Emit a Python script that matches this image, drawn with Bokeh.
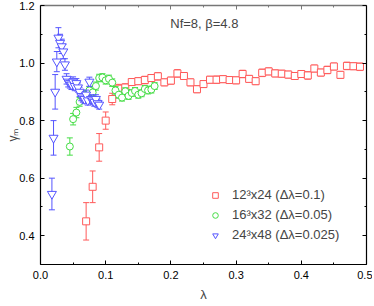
import math
from bokeh.plotting import figure
from bokeh.models import (Range1d, LinearAxis, FixedTicker, PrintfTickFormatter,
                          Label, Legend, LegendItem)
from bokeh.embed import file_html
from bokeh.resources import INLINE

# ---- data ----
red_lam = [0.07, 0.08, 0.09, 0.10, 0.11, 0.12, 0.13, 0.14, 0.15, 0.16, 0.17, 0.18,
           0.19, 0.20, 0.21, 0.22, 0.23, 0.24, 0.25, 0.26, 0.27, 0.28, 0.29, 0.30,
           0.31, 0.32, 0.33, 0.34, 0.35, 0.36, 0.37, 0.38, 0.39, 0.40, 0.41, 0.42,
           0.43, 0.44, 0.45, 0.46, 0.47, 0.48, 0.49]
red_gam = [0.450, 0.570, 0.707, 0.800, 0.875, 0.911, 0.915, 0.934, 0.937, 0.941, 0.948, 0.954,
           0.933, 0.939, 0.964, 0.955, 0.933, 0.909, 0.927, 0.942, 0.942, 0.944, 0.941, 0.940,
           0.962, 0.945, 0.937, 0.966, 0.971, 0.964, 0.963, 0.960, 0.955, 0.962, 0.957, 0.981,
           0.967, 0.976, 0.988, 0.959, 0.990, 0.989, 0.987]
red_err = [0.065, 0.055, 0.048, 0.030, 0.020, 0.015, 0.013, 0.012, 0.012, 0.013, 0.012, 0.013,
           0.012, 0.012, 0.013, 0.012, 0.012, 0.012, 0.012, 0.012, 0.013, 0.012, 0.012, 0.012,
           0.013, 0.012, 0.012, 0.013, 0.012, 0.012, 0.012, 0.012, 0.012, 0.012, 0.013, 0.012,
           0.012, 0.013, 0.012, 0.012, 0.013, 0.012, 0.013]

green_lam = [0.045, 0.050, 0.055, 0.060, 0.065, 0.070, 0.075, 0.080, 0.085, 0.090, 0.095,
             0.100, 0.105, 0.110, 0.115, 0.120, 0.125, 0.130, 0.135, 0.140, 0.145, 0.150,
             0.155, 0.160, 0.165, 0.170, 0.175]
green_gam = [0.710, 0.805, 0.828, 0.865, 0.878, 0.890, 0.905, 0.898, 0.920, 0.948, 0.950,
             0.940, 0.945, 0.932, 0.905, 0.890, 0.880, 0.902, 0.886, 0.896, 0.903, 0.890,
             0.895, 0.910, 0.905, 0.908, 0.920]
green_err = [0.030, 0.020, 0.018, 0.015, 0.015, 0.014, 0.014, 0.014, 0.014, 0.013, 0.013,
             0.013, 0.013, 0.013, 0.013, 0.012, 0.012, 0.012, 0.012, 0.012, 0.012, 0.012,
             0.012, 0.012, 0.012, 0.012, 0.012]

blue_lam = [0.0175, 0.0200, 0.0225, 0.0250, 0.0275, 0.0300, 0.0325, 0.0350, 0.0375, 0.0400,
            0.0425, 0.0450, 0.0475, 0.0500, 0.0525, 0.0550, 0.0575, 0.0600, 0.0625, 0.0650,
            0.0675, 0.0700, 0.0725, 0.0750, 0.0775, 0.0800, 0.0825, 0.0850, 0.0875, 0.0900]
blue_gam = [0.545, 0.740, 0.900, 1.005, 1.088, 1.070, 1.058, 1.040, 0.995, 0.945,
            0.935, 0.930, 0.925, 0.935, 0.920, 0.930, 0.915, 0.900, 0.885, 0.880,
            0.875, 0.890, 0.870, 0.935, 0.875, 0.870, 0.865, 0.875, 0.860, 0.855]
blue_err = [0.055, 0.060, 0.060, 0.035, 0.035, 0.030, 0.025, 0.025, 0.020, 0.018,
            0.018, 0.017, 0.017, 0.017, 0.016, 0.016, 0.016, 0.016, 0.016, 0.016,
            0.016, 0.016, 0.016, 0.016, 0.015, 0.015, 0.015, 0.015, 0.015, 0.015]

x_ticks = [0.0, 0.1, 0.2, 0.3, 0.4, 0.5]
x_minor = [0.05, 0.15, 0.25, 0.35, 0.45]
y_ticks = [0.4, 0.6, 0.8, 1.0, 1.2]
y_minor = [0.3, 0.5, 0.7, 0.9, 1.1]

labels = ["12\u00b3x24 (\u0394\u03bb=0.1)",
          "16\u00b3x32 (\u0394\u03bb=0.05)",
          "24\u00b3x48 (\u0394\u03bb=0.025)"]

FONT = "Liberation Sans"

p = figure(width=372, height=304, output_backend="svg", toolbar_location=None,
           x_range=Range1d(0, 0.5), y_range=Range1d(0.3, 1.2),
           min_border_left=40, min_border_right=6, min_border_top=5, min_border_bottom=36)
p.xgrid.visible = False
p.ygrid.visible = False
p.outline_line_color = None
p.background_fill_color = "white"


def style_axis(ax, ticks, minor, show_labels, color="black", width=1.2):
    ax.ticker = FixedTicker(ticks=ticks, minor_ticks=minor)
    ax.formatter = PrintfTickFormatter(format="%.1f")
    ax.major_tick_in = 4
    ax.major_tick_out = 0
    ax.minor_tick_in = 2
    ax.minor_tick_out = 0
    ax.axis_line_color = color
    ax.axis_line_width = width
    ax.major_tick_line_color = color
    ax.minor_tick_line_color = color
    ax.major_label_text_font = FONT
    ax.major_label_text_color = "black"
    ax.major_label_text_font_size = "11px"
    if show_labels:
        ax.major_label_standoff = 6
    else:
        ax.major_label_overrides = {t: "" for t in ticks}
        ax.major_label_standoff = 0


style_axis(p.xaxis[0], x_ticks, x_minor, True)
style_axis(p.yaxis[0], y_ticks, y_minor, True)
p.yaxis[0].major_label_standoff = 6
p.xaxis[0].axis_label = "\u03bb"
p.xaxis[0].axis_label_text_font = FONT
p.xaxis[0].axis_label_text_font_size = "13px"
p.xaxis[0].axis_label_text_font_style = "normal"
p.xaxis[0].axis_label_standoff = 5
p.yaxis[0].axis_label = "\u03b3\u2098"
p.yaxis[0].axis_label_text_font = FONT
p.yaxis[0].axis_label_text_font_size = "12px"
p.yaxis[0].axis_label_text_font_style = "normal"
p.yaxis[0].axis_label_standoff = -4

top = LinearAxis()
style_axis(top, x_ticks, x_minor, False, color="#777777", width=1.5)
p.add_layout(top, "above")
right = LinearAxis()
style_axis(right, y_ticks, y_minor, False)
p.add_layout(right, "right")

series = [
    (red_lam, red_gam, red_err, "#ff5a5a", "square", 7),
    (green_lam, green_gam, green_err, "#44dd44", "circle", 7),
    (blue_lam, blue_gam, blue_err, "#5555ff", "inverted_triangle", 9),
]

items = []
for (lam, gam, err, col, mk, sz), lab in zip(series, labels):
    lo = [g - e for g, e in zip(gam, err)]
    hi = [g + e for g, e in zip(gam, err)]
    p.segment(x0=lam, y0=lo, x1=lam, y1=hi, line_color=col, line_width=1)
    p.scatter(x=lam, y=hi, marker="dash", size=6, line_color=col, line_width=1)
    p.scatter(x=lam, y=lo, marker="dash", size=6, line_color=col, line_width=1)
    r = p.scatter(x=lam, y=gam, marker=mk, size=sz, line_color=col, line_width=1,
                  fill_color="white")
    items.append(LegendItem(label=lab, renderers=[r]))

legend = Legend(items=items, location=(168, 22), padding=0, margin=0, spacing=5,
                glyph_width=14, glyph_height=14, label_height=14, label_standoff=10,
                label_text_font=FONT, label_text_font_size="13px",
                border_line_color=None, background_fill_alpha=0)
p.add_layout(legend)

p.add_layout(Label(x=0.199, y=1.138, text="Nf=8, \u03b2=4.8", text_font=FONT,
                   text_font_size="13px", text_baseline="middle", text_align="left"))

open("out.html", "w").write(file_html(p, INLINE))
